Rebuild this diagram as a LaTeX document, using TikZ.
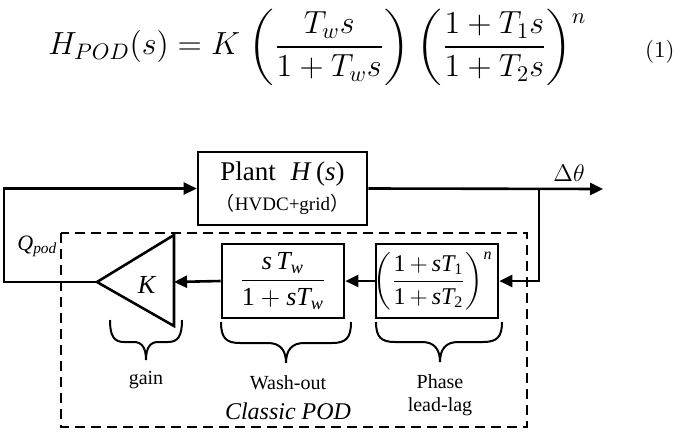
\RequirePackage{fix-cm}
\documentclass[tikz,border=0pt]{standalone}
\usepackage{amsmath}
\usepackage{graphicx}
\usepackage[no-math]{fontspec}
\setmainfont{Liberation Serif}
\newfontfamily\cjk{Noto Sans CJK SC}
\usetikzlibrary{arrows.meta}
\newcommand{\ti}[1]{\text{\itshape #1}}
\newcommand{\tu}[1]{\text{#1}}
\newcommand{\eqpl}{\mathopen{\vcenter{\hbox{\scalebox{1}[0.92]{$\displaystyle\biggl($}}}}}
\newcommand{\eqpr}{\mathclose{\vcenter{\hbox{\scalebox{1}[0.92]{$\displaystyle\biggr)$}}}}}
\begin{document}
\begin{tikzpicture}[x=0.5pt,y=-0.5pt,
  blk/.style={draw, line width=1.3pt, inner sep=0pt, minimum width=61pt, minimum height=37pt, font=\fontsize{13}{15}\selectfont},
  conn/.style={line width=1.3pt},
  arr/.style={conn, -{Triangle[length=6.5pt,width=6pt]}},
  dashbox/.style={draw, line width=0.8pt, dash pattern=on 5pt off 3pt},
  brc/.style={line width=1pt},
  lbl/.style={font=\fontsize{10}{12}\selectfont, inner sep=0pt}]
\useasboundingbox (0,0) rectangle (684,444);

% equation
\node[anchor=base west, inner sep=0pt, font=\fontsize{16}{19}\selectfont] (eq) at (48,55)
  {$\displaystyle H_{POD}(s)=K\mkern5mu\eqpl\frac{T_w s}{1+T_w s}\eqpr\mkern4mu\eqpl\frac{1+T_1 s}{1+T_2 s}\eqpr^{\smash{\lower3pt\hbox{$\scriptstyle n$}}}$};
\node[anchor=base east, inner sep=0pt, font=\fontsize{11.5}{13}\selectfont] (eqn) at (675,58) {$(1)$};

% blocks
\node[draw, line width=1.3pt, minimum width=84.5pt, minimum height=36.5pt, inner sep=0pt, align=center,
  font=\fontsize{13.5}{14}\selectfont] (plant) at (282.5,188.5)
  {Plant\hspace{0.55em}\textit{H}\,(\textit{s})\\[1pt]{\fontsize{9.5}{11}\selectfont{\cjk （}HVDC+grid{\cjk ）}}};
\node[blk] (wash) at (283,281) {$\dfrac{\ti{s}\,\ti{T}_{\ti{w}}}{\tu{1}+\ti{s}\ti{T}_{\ti{w}}}$};
\node[blk, font=\fontsize{12}{14}\selectfont] (lead) at (437,281)
  {\hspace*{-4pt}$\biggl(\dfrac{\tu{1}\,{+}\,\ti{s}\ti{T}_{\tu{1}}}{\tu{1}\,{+}\,\ti{s}\ti{T}_{\tu{2}}}\biggr)^{\ti{n}}$};

% gain triangle
\coordinate (tipK) at (97,282);
\coordinate (ktop) at (174,235);
\coordinate (kbot) at (174,326);
\coordinate (kin) at (174,282);
\draw[conn, line join=miter] (tipK) -- (ktop) -- (kbot) -- cycle;
\node[inner sep=0pt, font=\fontsize{13}{15}\selectfont] (gainK) at (147,285) {\textit{K}};

% dashed POD box
\draw[dashbox] (61,233) rectangle (527,427);

% connectors
\coordinate (out) at (603,189);
\coordinate (br) at (539,189);
\coordinate (lc) at (4,282);
\draw[arr] (plant.east) -- (out);
\draw[arr] (br) |- (lead.east);
\draw[arr] (lead.west) -- (wash.east);
\draw[arr] (wash.west) -- (kin);
\draw[arr] (tipK) -- (lc) |- (plant.west);

% labels
\node[anchor=base west, inner sep=0pt, font=\fontsize{11}{12}\selectfont] (qpod) at (17,250) {\textit{Q}\textsubscript{\textit{pod}}};
\node[inner sep=0pt, font=\fontsize{12}{14}\selectfont] (dth) at (569,173) {$\Delta\theta$};

% braces
\draw[brc] (110,320) .. controls (110,336) and (114,342) .. (124,342) -- (134,342)
  .. controls (142,342) and (146,348) .. (146,360) .. controls (146,348) and (150,342) .. (158,342)
  -- (168,342) .. controls (178,342) and (182,336) .. (182,320);
\draw[brc] (221,322) .. controls (221,338) and (226,343) .. (240,343) -- (268,343)
  .. controls (280,343) and (286,350) .. (286,363) .. controls (286,350) and (292,343) .. (304,343)
  -- (332,343) .. controls (346,343) and (351,338) .. (351,322);
\draw[brc] (376,322) .. controls (376,337) and (381,342) .. (395,342) -- (422,342)
  .. controls (434,342) and (440,349) .. (440,362) .. controls (440,349) and (446,342) .. (458,342)
  -- (483,342) .. controls (497,342) and (502,337) .. (502,322);

\node[lbl] (lgain) at (146,380) {gain};
\node[lbl] (lwash) at (288,383) {Wash-out};
\node[inner sep=0pt, font=\fontsize{12}{14}\selectfont\itshape] (lclassic) at (288,411) {Classic POD};
\node[lbl] (lphase) at (440,382) {Phase};
\node[lbl] (llead) at (440,407) {lead-lag};
\end{tikzpicture}
\end{document}
